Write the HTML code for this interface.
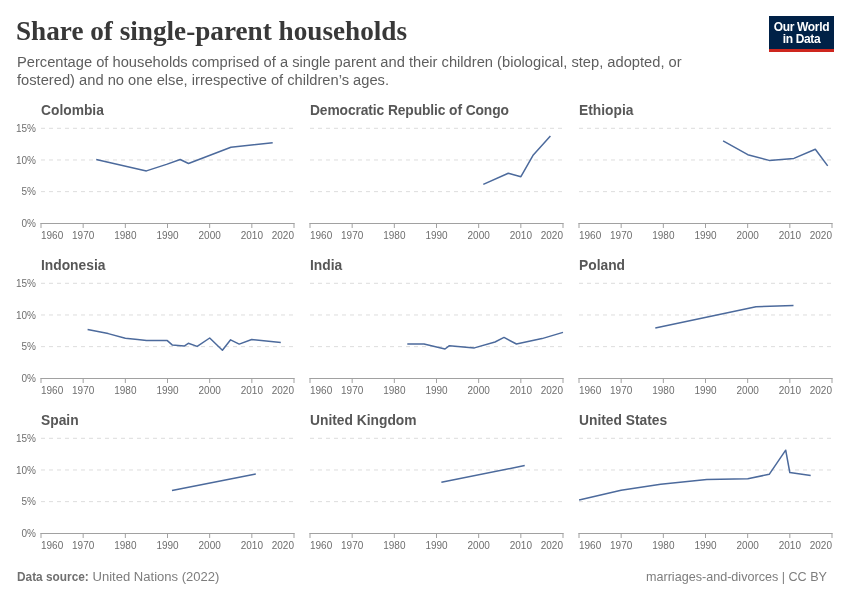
<!DOCTYPE html>
<html><head><meta charset="utf-8"><style>
html,body{margin:0;padding:0;background:#fff;width:850px;height:600px;overflow:hidden}
body{position:relative;font-family:"Liberation Sans",sans-serif}
#wrap{position:absolute;left:0;top:0;width:850px;height:600px;will-change:transform}
.abs{position:absolute;white-space:nowrap}
#title{position:absolute;left:16px;top:11px;font-family:"Liberation Serif",serif;font-weight:bold;font-size:27.2px;line-height:40px;height:40px;color:#383838;white-space:nowrap}
.sub{position:absolute;left:17px;font-size:14.7px;color:#5e5e5e;white-space:nowrap;line-height:0}
.pt{position:absolute;font-weight:bold;font-size:13.8px;color:#575757;white-space:nowrap;line-height:0}
.yl{position:absolute;width:55px;text-align:right;font-size:10px;color:#6e6e6e;line-height:0}
.yl span{}
.xl{position:absolute;font-size:10px;color:#6e6e6e;line-height:0;transform:translateX(-50%)}
.xl.l{transform:none}
.xl.r{transform:translateX(-100%)}
svg{position:absolute;left:0;top:0}
.g{stroke:#ddd;stroke-width:1;stroke-dasharray:4 4}
.ax{stroke:#a1a1a1;stroke-width:1}
.ln{fill:none;stroke:#4c6a9c;stroke-width:1.5;stroke-linejoin:round;stroke-linecap:butt}
#logo{position:absolute;left:769px;top:16px;width:65px;height:36px;background:#002147;color:#fff;font-weight:bold;font-size:12px;line-height:12px;text-align:center;letter-spacing:-0.35px}
#logo .bar{position:absolute;left:0;bottom:0;width:100%;height:3px;background:#ce261e}
#logo .t{position:absolute;left:0;width:100%;top:4.5px}
.foot{position:absolute;font-size:12.6px;color:#7d7d7d;white-space:nowrap;line-height:0}
.foot b{color:#5b5b5b}
</style></head><body><div id="wrap">
<div id="title">Share of single-parent households</div>
<div class="sub" style="top:61.5px">Percentage of households comprised of a single parent and their children (biological, step, adopted, or</div>
<div class="sub" style="top:79.5px">fostered) and no one else, irrespective of children’s ages.</div>
<div id="logo"><div class="t">Our World<br>in Data</div><div class="bar"></div></div>
<svg width="850" height="600" viewBox="0 0 850 600">
<line x1="41" x2="294" y1="128.30" y2="128.30" class="g"/>
<line x1="41" x2="294" y1="159.97" y2="159.97" class="g"/>
<line x1="41" x2="294" y1="191.63" y2="191.63" class="g"/>
<line x1="40.5" x2="294.5" y1="223.5" y2="223.5" class="ax"/>
<line x1="41.00" x2="41.00" y1="223" y2="228" class="ax"/>
<line x1="83.17" x2="83.17" y1="223" y2="228" class="ax"/>
<line x1="125.33" x2="125.33" y1="223" y2="228" class="ax"/>
<line x1="167.50" x2="167.50" y1="223" y2="228" class="ax"/>
<line x1="209.67" x2="209.67" y1="223" y2="228" class="ax"/>
<line x1="251.83" x2="251.83" y1="223" y2="228" class="ax"/>
<line x1="294.00" x2="294.00" y1="223" y2="228" class="ax"/>
<polyline points="96.2,159.6 146.4,170.9 166.5,164.4 180.2,159.5 188.5,163.5 230.9,147.3 272.7,142.7" class="ln"/>
<line x1="310" x2="563" y1="128.30" y2="128.30" class="g"/>
<line x1="310" x2="563" y1="159.97" y2="159.97" class="g"/>
<line x1="310" x2="563" y1="191.63" y2="191.63" class="g"/>
<line x1="309.5" x2="563.5" y1="223.5" y2="223.5" class="ax"/>
<line x1="310.00" x2="310.00" y1="223" y2="228" class="ax"/>
<line x1="352.17" x2="352.17" y1="223" y2="228" class="ax"/>
<line x1="394.33" x2="394.33" y1="223" y2="228" class="ax"/>
<line x1="436.50" x2="436.50" y1="223" y2="228" class="ax"/>
<line x1="478.67" x2="478.67" y1="223" y2="228" class="ax"/>
<line x1="520.83" x2="520.83" y1="223" y2="228" class="ax"/>
<line x1="563.00" x2="563.00" y1="223" y2="228" class="ax"/>
<polyline points="483.3,184.4 508.3,173.3 520.9,176.7 533.3,154.9 550.4,136.0" class="ln"/>
<line x1="579" x2="832" y1="128.30" y2="128.30" class="g"/>
<line x1="579" x2="832" y1="159.97" y2="159.97" class="g"/>
<line x1="579" x2="832" y1="191.63" y2="191.63" class="g"/>
<line x1="578.5" x2="832.5" y1="223.5" y2="223.5" class="ax"/>
<line x1="579.00" x2="579.00" y1="223" y2="228" class="ax"/>
<line x1="621.17" x2="621.17" y1="223" y2="228" class="ax"/>
<line x1="663.33" x2="663.33" y1="223" y2="228" class="ax"/>
<line x1="705.50" x2="705.50" y1="223" y2="228" class="ax"/>
<line x1="747.67" x2="747.67" y1="223" y2="228" class="ax"/>
<line x1="789.83" x2="789.83" y1="223" y2="228" class="ax"/>
<line x1="832.00" x2="832.00" y1="223" y2="228" class="ax"/>
<polyline points="723.1,140.9 747.8,154.7 769.2,160.4 793.9,158.4 815.3,149.3 827.7,165.9" class="ln"/>
<line x1="41" x2="294" y1="283.30" y2="283.30" class="g"/>
<line x1="41" x2="294" y1="314.97" y2="314.97" class="g"/>
<line x1="41" x2="294" y1="346.63" y2="346.63" class="g"/>
<line x1="40.5" x2="294.5" y1="378.5" y2="378.5" class="ax"/>
<line x1="41.00" x2="41.00" y1="378" y2="383" class="ax"/>
<line x1="83.17" x2="83.17" y1="378" y2="383" class="ax"/>
<line x1="125.33" x2="125.33" y1="378" y2="383" class="ax"/>
<line x1="167.50" x2="167.50" y1="378" y2="383" class="ax"/>
<line x1="209.67" x2="209.67" y1="378" y2="383" class="ax"/>
<line x1="251.83" x2="251.83" y1="378" y2="383" class="ax"/>
<line x1="294.00" x2="294.00" y1="378" y2="383" class="ax"/>
<polyline points="87.6,329.6 108.2,333.6 125.3,338.2 137.6,339.5 146.5,340.6 167.3,340.6 172.2,344.9 184.2,346.1 188.3,343.3 197.2,346.4 209.7,338.0 222.4,350.2 230.6,339.8 239.2,344.1 251.7,339.5 280.8,342.4" class="ln"/>
<line x1="310" x2="563" y1="283.30" y2="283.30" class="g"/>
<line x1="310" x2="563" y1="314.97" y2="314.97" class="g"/>
<line x1="310" x2="563" y1="346.63" y2="346.63" class="g"/>
<line x1="309.5" x2="563.5" y1="378.5" y2="378.5" class="ax"/>
<line x1="310.00" x2="310.00" y1="378" y2="383" class="ax"/>
<line x1="352.17" x2="352.17" y1="378" y2="383" class="ax"/>
<line x1="394.33" x2="394.33" y1="378" y2="383" class="ax"/>
<line x1="436.50" x2="436.50" y1="378" y2="383" class="ax"/>
<line x1="478.67" x2="478.67" y1="378" y2="383" class="ax"/>
<line x1="520.83" x2="520.83" y1="378" y2="383" class="ax"/>
<line x1="563.00" x2="563.00" y1="378" y2="383" class="ax"/>
<polyline points="407.3,344.0 424.0,344.0 445.0,349.0 449.4,345.7 474.4,347.9 495.0,342.0 504.0,337.4 516.4,344.0 542.0,338.6 563.0,332.4" class="ln"/>
<line x1="579" x2="832" y1="283.30" y2="283.30" class="g"/>
<line x1="579" x2="832" y1="314.97" y2="314.97" class="g"/>
<line x1="579" x2="832" y1="346.63" y2="346.63" class="g"/>
<line x1="578.5" x2="832.5" y1="378.5" y2="378.5" class="ax"/>
<line x1="579.00" x2="579.00" y1="378" y2="383" class="ax"/>
<line x1="621.17" x2="621.17" y1="378" y2="383" class="ax"/>
<line x1="663.33" x2="663.33" y1="378" y2="383" class="ax"/>
<line x1="705.50" x2="705.50" y1="378" y2="383" class="ax"/>
<line x1="747.67" x2="747.67" y1="378" y2="383" class="ax"/>
<line x1="789.83" x2="789.83" y1="378" y2="383" class="ax"/>
<line x1="832.00" x2="832.00" y1="378" y2="383" class="ax"/>
<polyline points="655.3,327.9 756.0,306.8 793.5,305.5" class="ln"/>
<line x1="41" x2="294" y1="438.30" y2="438.30" class="g"/>
<line x1="41" x2="294" y1="469.97" y2="469.97" class="g"/>
<line x1="41" x2="294" y1="501.63" y2="501.63" class="g"/>
<line x1="40.5" x2="294.5" y1="533.5" y2="533.5" class="ax"/>
<line x1="41.00" x2="41.00" y1="533" y2="538" class="ax"/>
<line x1="83.17" x2="83.17" y1="533" y2="538" class="ax"/>
<line x1="125.33" x2="125.33" y1="533" y2="538" class="ax"/>
<line x1="167.50" x2="167.50" y1="533" y2="538" class="ax"/>
<line x1="209.67" x2="209.67" y1="533" y2="538" class="ax"/>
<line x1="251.83" x2="251.83" y1="533" y2="538" class="ax"/>
<line x1="294.00" x2="294.00" y1="533" y2="538" class="ax"/>
<polyline points="172.0,490.5 255.8,474.0" class="ln"/>
<line x1="310" x2="563" y1="438.30" y2="438.30" class="g"/>
<line x1="310" x2="563" y1="469.97" y2="469.97" class="g"/>
<line x1="310" x2="563" y1="501.63" y2="501.63" class="g"/>
<line x1="309.5" x2="563.5" y1="533.5" y2="533.5" class="ax"/>
<line x1="310.00" x2="310.00" y1="533" y2="538" class="ax"/>
<line x1="352.17" x2="352.17" y1="533" y2="538" class="ax"/>
<line x1="394.33" x2="394.33" y1="533" y2="538" class="ax"/>
<line x1="436.50" x2="436.50" y1="533" y2="538" class="ax"/>
<line x1="478.67" x2="478.67" y1="533" y2="538" class="ax"/>
<line x1="520.83" x2="520.83" y1="533" y2="538" class="ax"/>
<line x1="563.00" x2="563.00" y1="533" y2="538" class="ax"/>
<polyline points="441.4,482.2 524.7,465.6" class="ln"/>
<line x1="579" x2="832" y1="438.30" y2="438.30" class="g"/>
<line x1="579" x2="832" y1="469.97" y2="469.97" class="g"/>
<line x1="579" x2="832" y1="501.63" y2="501.63" class="g"/>
<line x1="578.5" x2="832.5" y1="533.5" y2="533.5" class="ax"/>
<line x1="579.00" x2="579.00" y1="533" y2="538" class="ax"/>
<line x1="621.17" x2="621.17" y1="533" y2="538" class="ax"/>
<line x1="663.33" x2="663.33" y1="533" y2="538" class="ax"/>
<line x1="705.50" x2="705.50" y1="533" y2="538" class="ax"/>
<line x1="747.67" x2="747.67" y1="533" y2="538" class="ax"/>
<line x1="789.83" x2="789.83" y1="533" y2="538" class="ax"/>
<line x1="832.00" x2="832.00" y1="533" y2="538" class="ax"/>
<polyline points="579.1,500.1 621.1,490.2 660.7,484.2 706.8,479.5 747.8,478.7 769.2,474.3 785.7,450.2 789.8,472.5 810.7,475.6" class="ln"/>
</svg>
<div class="pt" style="left:41px;top:110.5px">Colombia</div>
<div class="yl" style="left:-19px;top:129.00px">15%</div>
<div class="yl" style="left:-19px;top:160.67px">10%</div>
<div class="yl" style="left:-19px;top:192.33px">5%</div>
<div class="yl" style="left:-19px;top:224.00px">0%</div>
<div class="xl l" style="left:41.00px;top:236px">1960</div>
<div class="xl" style="left:83.17px;top:236px">1970</div>
<div class="xl" style="left:125.33px;top:236px">1980</div>
<div class="xl" style="left:167.50px;top:236px">1990</div>
<div class="xl" style="left:209.67px;top:236px">2000</div>
<div class="xl" style="left:251.83px;top:236px">2010</div>
<div class="xl r" style="left:294.00px;top:236px">2020</div>
<div class="pt" style="left:310px;top:110.5px;letter-spacing:-0.1px">Democratic Republic of Congo</div>
<div class="xl l" style="left:310.00px;top:236px">1960</div>
<div class="xl" style="left:352.17px;top:236px">1970</div>
<div class="xl" style="left:394.33px;top:236px">1980</div>
<div class="xl" style="left:436.50px;top:236px">1990</div>
<div class="xl" style="left:478.67px;top:236px">2000</div>
<div class="xl" style="left:520.83px;top:236px">2010</div>
<div class="xl r" style="left:563.00px;top:236px">2020</div>
<div class="pt" style="left:579px;top:110.5px">Ethiopia</div>
<div class="xl l" style="left:579.00px;top:236px">1960</div>
<div class="xl" style="left:621.17px;top:236px">1970</div>
<div class="xl" style="left:663.33px;top:236px">1980</div>
<div class="xl" style="left:705.50px;top:236px">1990</div>
<div class="xl" style="left:747.67px;top:236px">2000</div>
<div class="xl" style="left:789.83px;top:236px">2010</div>
<div class="xl r" style="left:832.00px;top:236px">2020</div>
<div class="pt" style="left:41px;top:265.5px">Indonesia</div>
<div class="yl" style="left:-19px;top:284.00px">15%</div>
<div class="yl" style="left:-19px;top:315.67px">10%</div>
<div class="yl" style="left:-19px;top:347.33px">5%</div>
<div class="yl" style="left:-19px;top:379.00px">0%</div>
<div class="xl l" style="left:41.00px;top:391px">1960</div>
<div class="xl" style="left:83.17px;top:391px">1970</div>
<div class="xl" style="left:125.33px;top:391px">1980</div>
<div class="xl" style="left:167.50px;top:391px">1990</div>
<div class="xl" style="left:209.67px;top:391px">2000</div>
<div class="xl" style="left:251.83px;top:391px">2010</div>
<div class="xl r" style="left:294.00px;top:391px">2020</div>
<div class="pt" style="left:310px;top:265.5px">India</div>
<div class="xl l" style="left:310.00px;top:391px">1960</div>
<div class="xl" style="left:352.17px;top:391px">1970</div>
<div class="xl" style="left:394.33px;top:391px">1980</div>
<div class="xl" style="left:436.50px;top:391px">1990</div>
<div class="xl" style="left:478.67px;top:391px">2000</div>
<div class="xl" style="left:520.83px;top:391px">2010</div>
<div class="xl r" style="left:563.00px;top:391px">2020</div>
<div class="pt" style="left:579px;top:265.5px">Poland</div>
<div class="xl l" style="left:579.00px;top:391px">1960</div>
<div class="xl" style="left:621.17px;top:391px">1970</div>
<div class="xl" style="left:663.33px;top:391px">1980</div>
<div class="xl" style="left:705.50px;top:391px">1990</div>
<div class="xl" style="left:747.67px;top:391px">2000</div>
<div class="xl" style="left:789.83px;top:391px">2010</div>
<div class="xl r" style="left:832.00px;top:391px">2020</div>
<div class="pt" style="left:41px;top:420.5px">Spain</div>
<div class="yl" style="left:-19px;top:439.00px">15%</div>
<div class="yl" style="left:-19px;top:470.67px">10%</div>
<div class="yl" style="left:-19px;top:502.33px">5%</div>
<div class="yl" style="left:-19px;top:534.00px">0%</div>
<div class="xl l" style="left:41.00px;top:546px">1960</div>
<div class="xl" style="left:83.17px;top:546px">1970</div>
<div class="xl" style="left:125.33px;top:546px">1980</div>
<div class="xl" style="left:167.50px;top:546px">1990</div>
<div class="xl" style="left:209.67px;top:546px">2000</div>
<div class="xl" style="left:251.83px;top:546px">2010</div>
<div class="xl r" style="left:294.00px;top:546px">2020</div>
<div class="pt" style="left:310px;top:420.5px">United Kingdom</div>
<div class="xl l" style="left:310.00px;top:546px">1960</div>
<div class="xl" style="left:352.17px;top:546px">1970</div>
<div class="xl" style="left:394.33px;top:546px">1980</div>
<div class="xl" style="left:436.50px;top:546px">1990</div>
<div class="xl" style="left:478.67px;top:546px">2000</div>
<div class="xl" style="left:520.83px;top:546px">2010</div>
<div class="xl r" style="left:563.00px;top:546px">2020</div>
<div class="pt" style="left:579px;top:420.5px">United States</div>
<div class="xl l" style="left:579.00px;top:546px">1960</div>
<div class="xl" style="left:621.17px;top:546px">1970</div>
<div class="xl" style="left:663.33px;top:546px">1980</div>
<div class="xl" style="left:705.50px;top:546px">1990</div>
<div class="xl" style="left:747.67px;top:546px">2000</div>
<div class="xl" style="left:789.83px;top:546px">2010</div>
<div class="xl r" style="left:832.00px;top:546px">2020</div>
<div class="foot" style="left:17px;top:577px;font-size:11.85px;font-weight:bold;color:#707070">Data source:</div><div class="foot" style="left:92.5px;top:577px;font-size:13.05px">United Nations (2022)</div>
<div class="foot" style="right:23px;top:577px">marriages-and-divorces | CC BY</div>
</div></body></html>
